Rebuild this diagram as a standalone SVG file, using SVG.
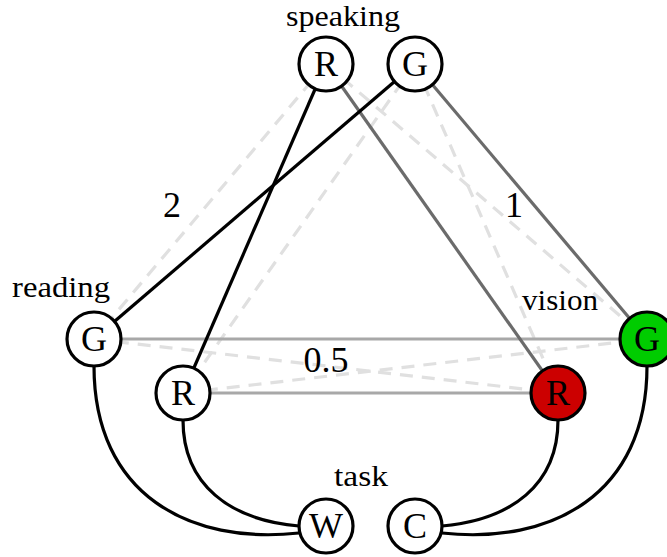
<svg xmlns="http://www.w3.org/2000/svg" width="667" height="557" viewBox="0 0 667 557">
<style>
.dash{stroke:#e0e0e0;stroke-width:3.2;stroke-dasharray:13 9;fill:none}
.blk{stroke:#000;stroke-width:3.2;fill:none}
.dk{stroke:#6b6b6b;stroke-width:3.2;fill:none}
.lt{stroke:#a8a8a8;stroke-width:3.2;fill:none}
.node circle{stroke:#000;stroke-width:3.2;fill:#fff}
</style>
<rect width="667" height="557" fill="#fff"/>
<g id="connectors">
<line class="dash" x1="326" y1="64" x2="94" y2="339"/>
<line class="dash" x1="415" y1="64" x2="183" y2="393"/>
<line class="dash" x1="326" y1="64" x2="647" y2="339"/>
<line class="dash" x1="415" y1="64" x2="558" y2="393"/>
<line class="dash" x1="94" y1="339" x2="558" y2="393"/>
<line class="dash" x1="183" y1="393" x2="647" y2="339"/>
<line class="lt" x1="94" y1="339" x2="647" y2="339"/>
<line class="lt" x1="183" y1="393" x2="558" y2="393"/>
<line class="dk" x1="326" y1="64" x2="558" y2="393"/>
<line class="dk" x1="415" y1="64" x2="647" y2="339"/>
<line class="blk" x1="326" y1="64" x2="183" y2="393"/>
<line class="blk" x1="415" y1="64" x2="94" y2="339"/>
<path class="blk" d="M94,366 C94,495 190,545 299,533"/>
<path class="blk" d="M183,420 C183,485 230,520 299,526"/>
<path class="blk" d="M647,366 C647,495 551,545 442,533"/>
<path class="blk" d="M558,420 C558,485 511,520 442,526"/>
</g>
<g id="labels" font-family="Liberation Serif, DejaVu Serif, serif" text-anchor="middle" fill="#000">
<text font-size="29" x="343" y="26" textLength="114" lengthAdjust="spacingAndGlyphs">speaking</text>
<text font-size="29" x="61" y="297" textLength="98" lengthAdjust="spacingAndGlyphs">reading</text>
<text font-size="29" x="560" y="310" textLength="76" lengthAdjust="spacingAndGlyphs">vision</text>
<text font-size="29" x="361" y="486" textLength="54" lengthAdjust="spacingAndGlyphs">task</text>
<text font-size="36" x="172" y="217">2</text>
<text font-size="36" x="514" y="217">1</text>
<text font-size="36" x="326" y="372">0.5</text>
</g>
<g font-family="Liberation Serif, DejaVu Serif, serif" text-anchor="middle" font-size="36" fill="#000">
<g id="speaking-R" class="node"><circle cx="326" cy="64" r="27"/><text x="326" y="76">R</text></g>
<g id="speaking-G" class="node"><circle cx="415" cy="64" r="27"/><text x="415" y="76">G</text></g>
<g id="reading-G" class="node"><circle cx="94" cy="339" r="27"/><text x="94" y="351">G</text></g>
<g id="reading-R" class="node"><circle cx="183" cy="393" r="27"/><text x="183" y="405">R</text></g>
<g id="vision-G" class="node"><circle cx="647" cy="339" r="27" style="fill:#00cc00"/><text x="647" y="351">G</text></g>
<g id="vision-R" class="node"><circle cx="558" cy="393" r="27" style="fill:#cc0000"/><text x="558" y="405">R</text></g>
<g id="task-W" class="node"><circle cx="326" cy="526" r="27"/><text x="326" y="538">W</text></g>
<g id="task-C" class="node"><circle cx="415" cy="526" r="27"/><text x="415" y="538">C</text></g>
</g>
</svg>
